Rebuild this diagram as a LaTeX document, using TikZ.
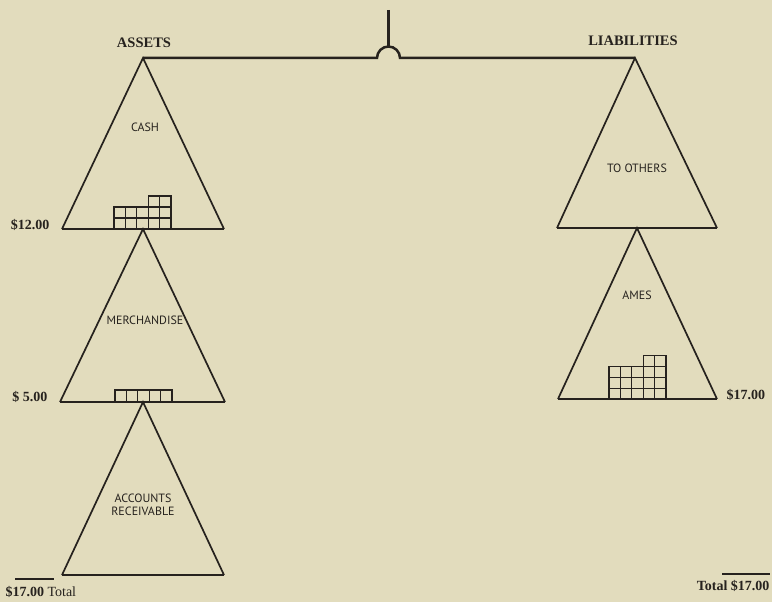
\documentclass[tikz,border=0pt]{standalone}
\usepackage{fontspec}
\setmainfont{Liberation Serif}
\newfontfamily\labelfont{PT Sans}
\usetikzlibrary{positioning,calc}
\definecolor{paper}{RGB}{226,220,189}
\definecolor{ink}{RGB}{38,34,30}
\tikzset{
  side/.style={ink,line width=1.7pt,line join=miter},
  pan/.style={ink,line width=2.5pt},
  cell/.style={ink,line width=1.3pt},
  head/.style={font=\fontsize{14.5}{15}\selectfont\bfseries,text=ink},
  tag/.style={font=\labelfont\fontsize{12}{13.5}\selectfont,text=ink,align=center},
  sum/.style={font=\fontsize{14}{15}\selectfont\bfseries,text=ink}
}
% one weight block per dollar: \blocks{origin}{cell w}{cell h}{col/row list}
\newcommand{\blocks}[4]{%
  \foreach \c/\r in {#4}
    \draw[cell] ($(#1)+(\c*#2,-\r*#3)$) rectangle ++(#2,-#3);
}
\begin{document}
\begin{tikzpicture}[x=1pt,y=-1pt]
  \fill[paper] (0,0) rectangle (772,602);
  \useasboundingbox (0,0) rectangle (772,602);
  % beam and hanger
  \coordinate (a0) at (143,58);
  \coordinate (l0) at (635,58);
  \coordinate (hl) at (377,58);
  \coordinate (hr) at (400,58);
  \draw[ink,line width=2.6pt] (388.5,10) -- (388.5,47);
  \draw[pan] (a0) -- (hl) arc[start angle=180,end angle=360,radius=11.5] -- (l0);
  % assets side
  \coordinate (a1) at (143,229);
  \coordinate (a2) at (143,402);
  \coordinate (a3) at (143,575);
  \draw[side] (62,229) -- (a0) -- (224,229);
  \draw[pan] (62,229) -- (224,229);
  \draw[side] (60,402) -- (a1) -- (225,402);
  \draw[pan] (60,402) -- (225,402);
  \draw[side] (62,575) -- (a2) -- (224,575);
  \draw[pan] (62,575) -- (224,575);
  % liabilities side
  \coordinate (l1) at (637,228);
  \coordinate (l2) at (637,399);
  \draw[side] (557,228) -- (l0) -- (717,228);
  \draw[pan] (557,228) -- (717,228);
  \draw[side] (558,399) -- (l1) -- (717,399);
  \draw[pan] (558,399) -- (717,399);
  % weights
  \coordinate (wc) at (114,229);
  \coordinate (wm) at (115,402);
  \coordinate (wa) at (609,399);
  \blocks{wc}{11.4}{11}{0/0,1/0,2/0,3/0,4/0,0/1,1/1,2/1,3/1,4/1,3/2,4/2}
  \blocks{wm}{11.4}{12}{0/0,1/0,2/0,3/0,4/0}
  \blocks{wa}{11.4}{10.8}{0/0,1/0,2/0,3/0,4/0,0/1,1/1,2/1,3/1,4/1,0/2,1/2,2/2,3/2,4/2,3/3,4/3}
  % labels
  \node[head] (assets) at (144,43) {ASSETS};
  \node[head] (liab) at (633,41) {LIABILITIES};
  \node[tag] (cash) at (145,127) {CASH};
  \node[tag] (merch) at (145,320) {MERCHANDISE};
  \node[tag] (recv) at (143,505) {ACCOUNTS\\RECEIVABLE};
  \node[tag] (others) at (637,168) {TO OTHERS};
  \node[tag] (ames) at (637,295) {AMES};
  \node[sum,anchor=east] (v12) at (53,225) {\$12.00};
  \node[sum,anchor=east] (v5) at (51,397) {\$ 5.00};
  \node[sum,anchor=west] (v17) at (723,395) {\$17.00};
  % totals
  \coordinate (tl1) at (15,579);
  \coordinate (tl2) at (54,579);
  \coordinate (tr1) at (722,574);
  \coordinate (tr2) at (770,574);
  \draw[pan,line width=1.8pt] (tl1) -- (tl2);
  \draw[pan,line width=1.8pt] (tr1) -- (tr2);
  \node[sum,anchor=west] (totl) at (2,592) {\$17.00 {\mdseries Total}};
  \node[sum,anchor=east] (totr) at (773,586) {Total \$17.00};
\end{tikzpicture}
\end{document}
